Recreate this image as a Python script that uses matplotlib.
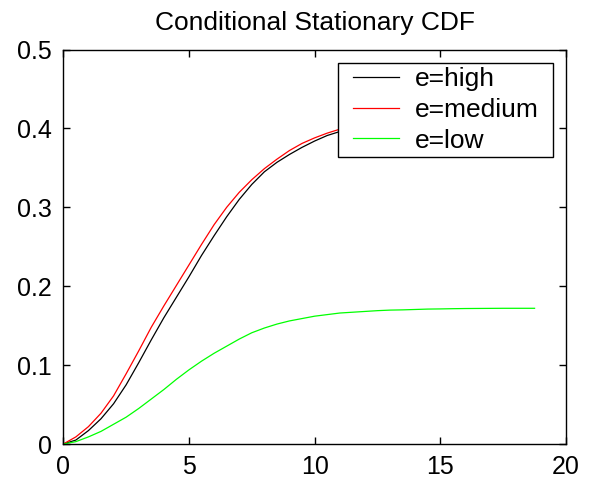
import matplotlib
matplotlib.use("Agg")
import matplotlib.pyplot as plt
from matplotlib.patches import Rectangle

plt.rcParams['font.family'] = ['Liberation Sans', 'DejaVu Sans']

x = [0, 0.5, 1, 1.5, 2, 2.5, 3, 3.5, 4, 4.5, 5, 5.5, 6, 6.5, 7, 7.5, 8, 8.5, 9, 9.5,
     10, 10.5, 11, 11.5, 12, 12.5, 13, 13.5, 14, 14.5, 15, 15.5, 16, 16.5, 17, 17.5,
     18, 18.5, 18.75]

high = [0, 0.005, 0.017, 0.032, 0.051, 0.075, 0.103, 0.132, 0.160, 0.186, 0.212, 0.239,
        0.264, 0.288, 0.310, 0.329, 0.345, 0.357, 0.367, 0.376, 0.384, 0.391, 0.396,
        0.401, 0.404, 0.407, 0.409, 0.410, 0.411, 0.412, 0.412, 0.412, 0.412, 0.412,
        0.412, 0.412, 0.412, 0.412, 0.412]

medium = [0, 0.009, 0.022, 0.039, 0.061, 0.089, 0.118, 0.148, 0.175, 0.201, 0.227, 0.253,
          0.278, 0.300, 0.319, 0.335, 0.349, 0.361, 0.372, 0.381, 0.388, 0.394, 0.399,
          0.403, 0.406, 0.409, 0.411, 0.412, 0.413, 0.414, 0.414, 0.414, 0.414, 0.414,
          0.414, 0.414, 0.414, 0.414, 0.414]

low = [0, 0.003, 0.009, 0.016, 0.025, 0.034, 0.045, 0.057, 0.069, 0.082, 0.094, 0.105,
       0.115, 0.124, 0.133, 0.141, 0.147, 0.152, 0.156, 0.159, 0.162, 0.164, 0.166,
       0.167, 0.168, 0.169, 0.1697, 0.170, 0.1705, 0.171, 0.1712, 0.1715, 0.1717,
       0.1718, 0.1719, 0.172, 0.172, 0.172, 0.172]

labels = ['e=high', 'e=medium', 'e=low']
colors = ['#000000', '#ff0000', '#00ff00']

W, H = 605, 484
L, R, T, B = 63.3, 566.0, 49.5, 444.0
fig = plt.figure(figsize=(W / 100, H / 100), dpi=100)
ax = fig.add_axes([L / W, 1 - B / H, (R - L) / W, (B - T) / H])

def axfrac(px, py):
    return (px - L) / (R - L), (B - py) / (B - T)

for y, lab, c in zip([high, medium, low], labels, colors):
    ax.plot(x, y, color=c, lw=0.9, label=lab)

ax.set_xlim(0, 20)
ax.set_ylim(0, 0.5)
ax.set_xticks([0, 5, 10, 15, 20])
ax.set_xticklabels(['0', '5', '10', '15', '20'])
ax.set_yticks([0, 0.1, 0.2, 0.3, 0.4, 0.5])
ax.set_yticklabels(['0', '0.1', '0.2', '0.3', '0.4', '0.5'])
ax.tick_params(direction='in', length=5, width=1, labelsize=18, top=True, right=True, pad=8)
for s in ax.spines.values():
    s.set_linewidth(1.0)

ax.set_title('Conditional Stationary CDF', fontsize=19, pad=14)

# legend box (MATLAB style, with wider horizontal padding)
x0, y1 = axfrac(338, 62.5)
x1, y0 = axfrac(553.3, 157)
ax.add_patch(Rectangle((x0, y0), x1 - x0, y1 - y0, transform=ax.transAxes,
                       facecolor='white', edgecolor='black', lw=1.0, zorder=4,
                       clip_on=False))
ax_lx, ax_ly = axfrac(353, 67)
leg = ax.legend(loc='upper left', bbox_to_anchor=(ax_lx, ax_ly), fontsize=19,
                frameon=False, handlelength=1.75, handletextpad=0.6,
                labelspacing=0.26, borderpad=0, borderaxespad=0)
leg.set_zorder(5)

fig.savefig('out.png', dpi=100)
